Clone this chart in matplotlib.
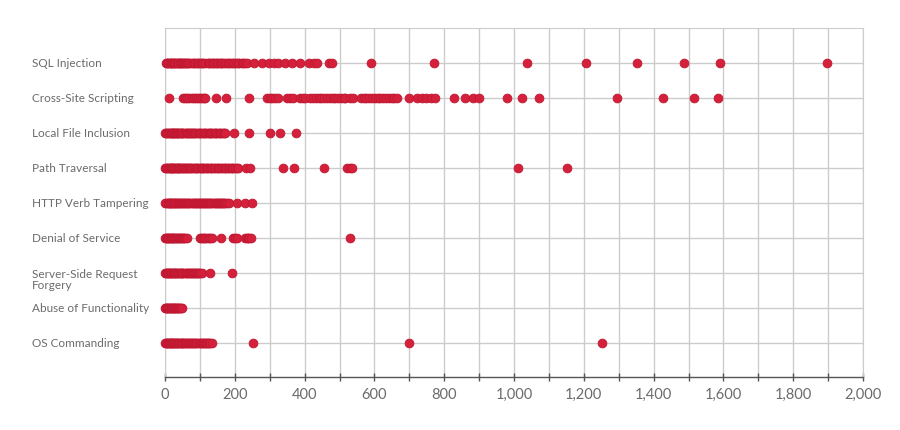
import matplotlib
matplotlib.use("Agg")
import matplotlib.pyplot as plt
import matplotlib.transforms as mtransforms

plt.rcParams['font.family'] = ['Lato', 'DejaVu Sans']

categories = ["SQL Injection", "Cross-Site Scripting", "Local File Inclusion", "Path Traversal",
              "HTTP Verb Tampering", "Denial of Service", "Server-Side Request\nForgery",
              "Abuse of Functionality", "OS Commanding"]

# values, one list per row
sql_injection = [2, 5, 8, 10, 13, 16, 18, 20, 23, 26, 28, 30, 34, 36, 38, 42, 44, 46, 50, 52, 55, 58,
                 60, 64, 67, 70, 75, 80, 83, 86, 92, 95, 98, 104, 107, 110, 116, 122, 125, 128, 134,
                 137, 140, 146, 149, 152, 158, 161, 164, 170, 176, 180, 183, 190, 194, 197, 204, 208,
                 212, 220, 224, 228, 234, 255, 277, 297, 313, 325, 344, 363, 387, 414, 426, 435, 469,
                 478, 590, 772, 1036, 1205, 1353, 1487, 1591, 1897]
cross_site = [12, 53, 58, 64, 70, 76, 82, 88, 94, 100, 106, 112, 115, 145, 175, 241, 292, 300, 308, 316,
              325, 349, 358, 368, 387, 395, 402, 416, 424, 432, 440, 448, 456, 464, 472, 480, 488,
              496, 504, 512, 516, 531, 540, 561, 569, 577, 585, 593, 601, 609, 617, 625, 633, 641,
              649, 657, 665, 700, 722, 735, 748, 762, 775, 829, 861, 882, 901, 980, 1024, 1071,
              1296, 1428, 1516, 1585]
local_file = [0, 3, 6, 9, 12, 15, 17, 19, 21, 23, 25, 27, 29, 31, 33, 35, 37, 40, 43, 45, 48, 50, 53,
              56, 59, 62, 65, 68, 71, 74, 77, 80, 84, 87, 90, 94, 97, 101, 104, 108, 111, 115, 118,
              122, 125, 129, 132, 136, 140, 143, 147, 150, 154, 158, 161, 165, 168, 172, 198, 242,
              301, 330, 375]
path_traversal = [0, 3, 6, 9, 12, 14, 16, 18, 20, 22, 24, 26, 28, 31, 33, 36, 38, 41, 43, 46, 48, 51,
                  54, 57, 60, 63, 66, 69, 72, 75, 78, 82, 85, 88, 92, 95, 99, 102, 106, 110, 113, 117,
                  120, 124, 128, 132, 136, 140, 144, 148, 152, 156, 160, 164, 168, 172, 176, 180, 184,
                  188, 192, 196, 200, 205, 210, 232, 244, 337, 371, 456, 521, 531, 537, 1011, 1151]
http_verb = [0, 4, 8, 10, 12, 14, 16, 18, 20, 23, 25, 28, 30, 33, 35, 38, 40, 43, 46, 49, 52, 55, 58,
             61, 64, 67, 70, 73, 76, 79, 82, 85, 88, 91, 94, 97, 100, 103, 106, 109, 112, 115, 118,
             121, 124, 127, 130, 133, 136, 139, 142, 145, 148, 151, 154, 157, 160, 163, 166, 169,
             172, 177, 182, 206, 228, 249]
denial_service = [0, 3, 6, 8, 10, 12, 14, 16, 19, 21, 24, 26, 28, 31, 34, 36, 39, 42, 45, 48, 52, 55,
                  58, 62, 100, 104, 108, 112, 116, 121, 126, 130, 134, 161, 196, 202, 207, 230, 234,
                  238, 242, 246, 529]
ssrf = [0, 3, 6, 8, 10, 12, 14, 16, 18, 20, 22, 25, 28, 30, 32, 35, 38, 40, 43, 45, 48, 50, 53, 56,
        59, 62, 65, 68, 71, 74, 77, 80, 83, 86, 89, 92, 95, 98, 101, 105, 129, 191]
abuse_func = [0, 2, 4, 6, 8, 10, 12, 14, 16, 18, 20, 22, 24, 26, 28, 30, 32, 34, 36, 38, 40, 43, 45, 48]
os_commanding = [0, 3, 5, 7, 9, 11, 13, 15, 17, 19, 21, 23, 25, 27, 29, 31, 33, 35, 38, 40, 43, 45,
                 48, 50, 53, 55, 58, 60, 63, 66, 69, 72, 75, 78, 81, 84, 87, 90, 93, 96, 99, 102, 105,
                 108, 111, 114, 117, 120, 124, 127, 130, 134, 253, 700, 1251]

series = [sql_injection, cross_site, local_file, path_traversal, http_verb,
          denial_service, ssrf, abuse_func, os_commanding]

red = "#d4203b"
grid_col = "#cccccc"
text_col = "#6b6b6b"

fig = plt.figure(figsize=(9, 4.3), dpi=100)
ax = fig.add_axes([165/900, 1-377/430, (863-165)/900, (377-28)/430])

for i, vals in enumerate(series):
    ax.scatter(vals, [i]*len(vals), s=40, color=red, edgecolors="#c01832", linewidths=0.6,
               zorder=3, clip_on=False)

ax.set_xlim(0, 2000)
ax.set_ylim(8.97, -1)
ax.set_xticks(range(0, 2001, 100))
ax.set_xticklabels(["{:,}".format(v) if v % 200 == 0 else "" for v in range(0, 2001, 100)])
ax.set_yticks(range(len(categories)))
ax.set_yticklabels([])
ax.grid(True, color=grid_col, linewidth=1, zorder=0)
ax.tick_params(axis='y', length=0)
ax.tick_params(axis='x', direction='inout', length=6, width=1, color="#555555",
               labelsize=10.5, labelcolor=text_col, pad=5)

for side in ["top", "right", "left"]:
    ax.spines[side].set_color(grid_col)
ax.spines["bottom"].set_color("#555555")
ax.spines["bottom"].set_linewidth(1)
ax.spines["bottom"].set_zorder(4)

trans = mtransforms.blended_transform_factory(fig.transFigure, ax.transData)
for i, name in enumerate(categories):
    yoff = 0.2 if "\n" in name else 0
    ax.text(32/900, i + yoff, name, transform=trans, ha="left", va="center",
            fontsize=8.5, color=text_col, linespacing=0.95)

fig.savefig("out.png", dpi=100)
